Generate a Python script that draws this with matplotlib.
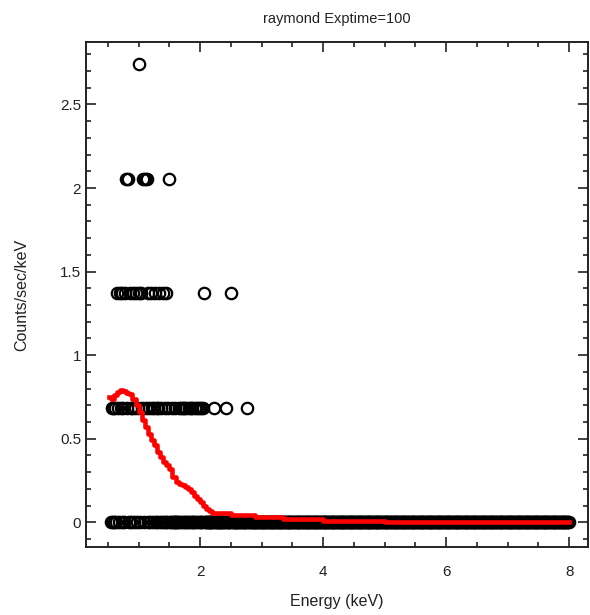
import numpy as np
import matplotlib
matplotlib.use("Agg")
import matplotlib.pyplot as plt
from matplotlib.ticker import MultipleLocator

plt.rcParams['font.family'] = ['Liberation Sans', 'DejaVu Sans']

# ACIS-like channel grid (14.6 eV channels), exposure 100 s
chan_width = 0.0146
exptime = 100.0
energy = np.arange(0.547, 8.0, chan_width)

# counts in the first channels (0.547 keV upward)
counts_low = [0, 1, 0, 1, 0, 1, 0, 2, 1, 0,
              2, 1, 0, 2, 1, 0, 2, 3, 1, 3,
              0, 2, 1, 0, 1, 2, 0, 1, 2, 0,
              1, 4, 2, 0, 2, 1, 3, 0, 3, 1,
              3, 0, 2, 1, 0, 2, 1, 0, 1, 2,
              0, 1, 0, 1, 2, 0, 1, 0, 2, 0,
              1, 0, 2, 0, 1, 3, 0, 0, 1, 0,
              0, 0, 1, 0, 0, 0, 1, 0, 1, 0,
              1, 0, 1, 0, 1, 0, 0, 1, 0, 1,
              0, 1, 0, 0, 1, 0, 1, 0, 1, 0,
              0, 1, 0, 1, 2, 0]
# isolated non-zero channels at higher energy
high_e = [2.22, 2.41, 2.51, 2.77]
high_c = [1, 1, 2, 1]

# model curve (counts/sec/keV)
model_e = [0.52, 0.55, 0.60, 0.65, 0.70, 0.75, 0.80, 0.85, 0.90, 0.95, 1.00,
           1.05, 1.10, 1.15, 1.20, 1.25, 1.30, 1.35, 1.40, 1.45, 1.50, 1.55,
           1.60, 1.65, 1.70, 1.75, 1.80, 1.85, 1.90, 1.95, 2.00, 2.05, 2.10,
           2.15, 2.20, 2.50, 2.90, 3.35, 4.00, 5.00, 8.00]
model_v = [0.75, 0.74, 0.76, 0.78, 0.79, 0.785, 0.775, 0.765, 0.74, 0.70, 0.66,
           0.61, 0.57, 0.53, 0.49, 0.46, 0.42, 0.39, 0.36, 0.34, 0.32, 0.27,
           0.24, 0.23, 0.22, 0.21, 0.20, 0.18, 0.16, 0.14, 0.12, 0.10, 0.08,
           0.065, 0.058, 0.045, 0.033, 0.021, 0.009, 0.002, 0.002]

counts = np.zeros_like(energy)
counts[:len(counts_low)] = counts_low
idx = np.round((np.array(high_e) - energy[0]) / chan_width).astype(int)
counts[idx] = high_c
rate = counts / (exptime * chan_width)

fig = plt.figure(figsize=(5.9, 6.15), dpi=100)
ax = fig.add_axes([0.1458, 0.1106, 0.8508, 0.8211])

ax.plot(energy, rate, 'o', mfc='none', mec='black', ms=8.2, mew=1.6,
        linestyle='none', zorder=2)
ax.plot(model_e, model_v, color='red', lw=3.3, drawstyle='steps-post', zorder=3)

ax.set_xlim(0.145, 8.305)
ax.set_ylim(-0.148, 2.874)

ax.xaxis.set_major_locator(MultipleLocator(2))
ax.xaxis.set_minor_locator(MultipleLocator(0.5))
ax.yaxis.set_major_locator(MultipleLocator(0.5))
ax.yaxis.set_minor_locator(MultipleLocator(0.1))
ax.tick_params(which='both', direction='in', top=True, right=True,
               labelsize=11, colors='#222222', width=1.2)
ax.tick_params(which='major', length=7)
ax.tick_params(which='minor', length=3.5)
ax.tick_params(axis='x', which='major', pad=13)
ax.set_yticks([0, 0.5, 1, 1.5, 2, 2.5])
ax.set_yticklabels(['0', '0.5', '1', '1.5', '2', '2.5'])
for s in ax.spines.values():
    s.set_linewidth(1.4)
    s.set_color('#222222')

ax.set_title('raymond Exptime=100', fontsize=10.5, color='#222222', pad=14)
ax.set_xlabel('Energy (keV)', fontsize=11.5, color='#222222', labelpad=11)
ax.set_ylabel('Counts/sec/keV', fontsize=11.5, color='#222222', labelpad=22)

fig.savefig('out.png', dpi=100)
